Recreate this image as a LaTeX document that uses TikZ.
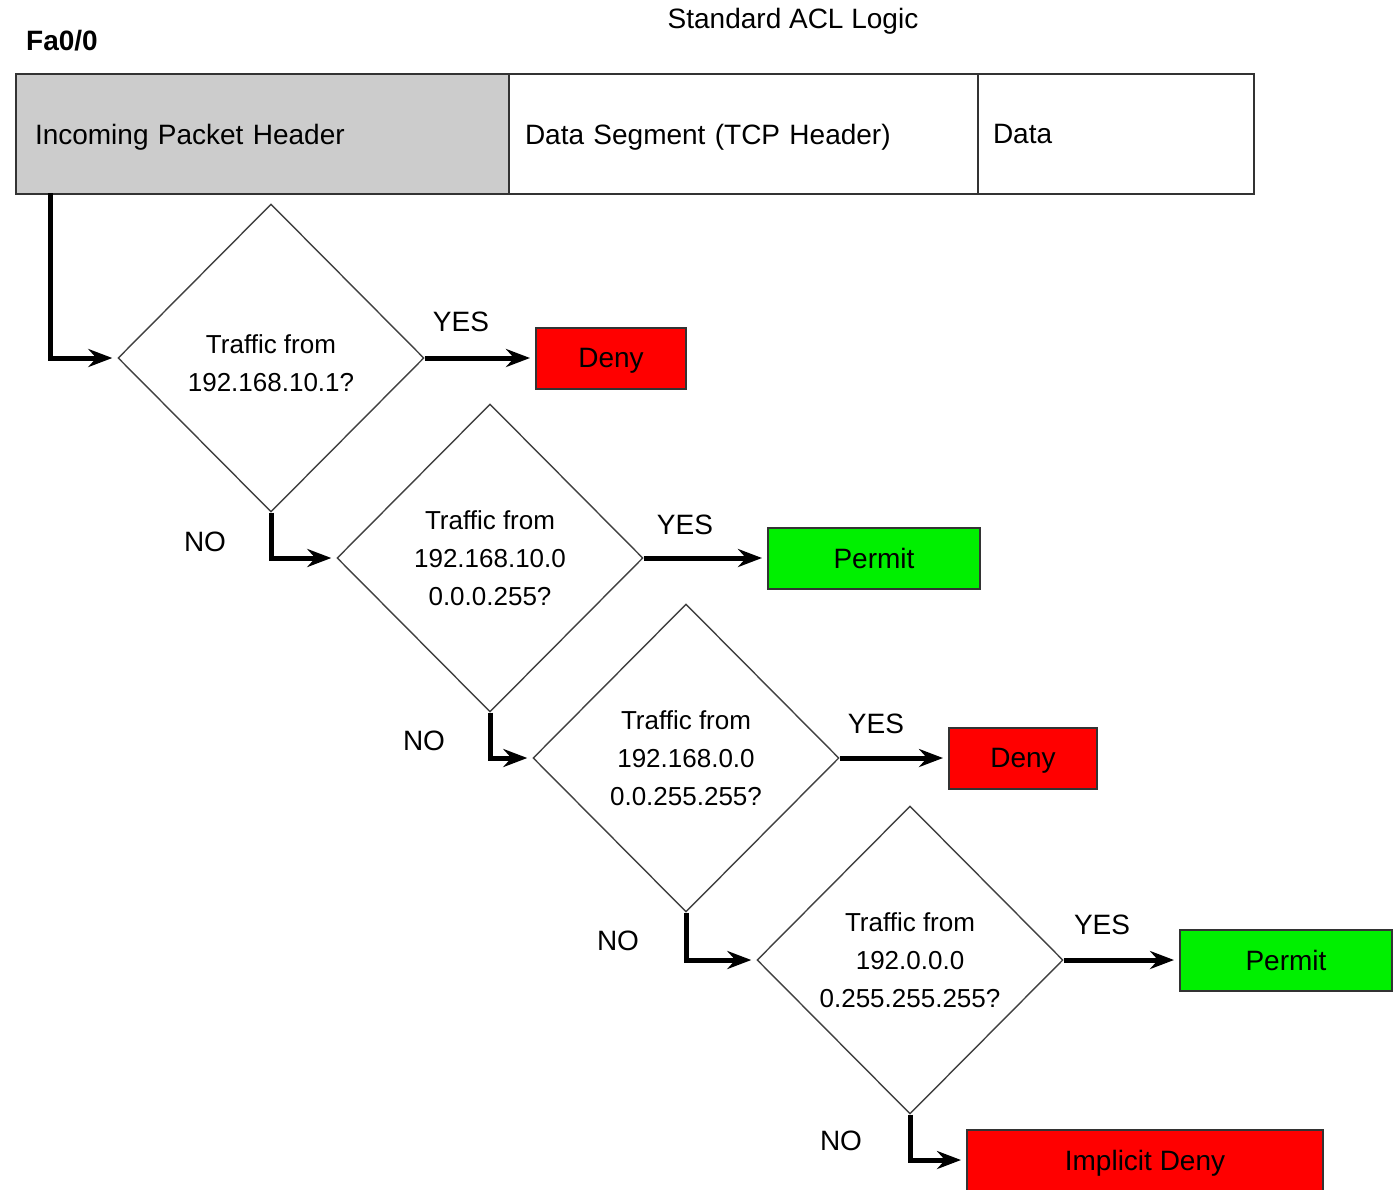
\documentclass[tikz,border=0pt]{standalone}
\usepackage{fontspec}
\setmainfont{Liberation Sans}
\usetikzlibrary{shapes.geometric,arrows.meta}
\definecolor{boxline}{HTML}{333333}
\definecolor{cellgray}{HTML}{CCCCCC}
\definecolor{denyred}{HTML}{FF0000}
\definecolor{permitgreen}{HTML}{00F000}
\tikzset{
  cell/.style={draw=boxline, line width=2pt, minimum height=120pt, inner ysep=0pt,
    text depth=0pt, align=left, anchor=north west, font=\fontsize{28}{34}\selectfont},
  decision/.style={diamond, draw=black!75, line width=1.4pt, inner sep=0pt,
    minimum width=306pt, minimum height=308pt, align=center,
    font=\fontsize{26}{38}\selectfont},
  outcome/.style={draw=boxline, line width=2pt, minimum height=61pt, inner sep=0pt,
    text depth=0pt, font=\fontsize{28}{34}\selectfont},
  flow/.style={line width=5pt, shorten >=5pt,
    -{Stealth[length=24pt,width=18pt,inset=8pt]}},
  lbl/.style={font=\fontsize{28}{34}\selectfont, inner sep=0pt}
}
\begin{document}
\begin{tikzpicture}[x=1pt, y=-1pt]
\path[use as bounding box] (0,0) rectangle (1396,1189);

% titles
\node[lbl] (title) at (793,21) {Standard ACL Logic};
\node[lbl, font=\fontsize{28}{34}\selectfont\bfseries, anchor=west] (iface) at (26,41) {Fa0/0};

% packet layout
\node[cell, fill=cellgray, minimum width=493pt, text width=455pt, inner xsep=19pt] (hdr) at (15,73) {Incoming Packet Header};
\node[cell, minimum width=469pt, text width=437pt, inner xsep=16pt] (seg) at (508,73) {Data Segment (TCP Header)};
\node[cell, minimum width=276pt, text width=246pt, inner xsep=15pt] (data) at (977,73) {Data};

% decisions
\node[decision] (d1) at (271,358) {\rule{0pt}{30pt}Traffic from\\192.168.10.1?};
\node[decision] (d2) at (490,558) {Traffic from\\192.168.10.0\\0.0.0.255?};
\node[decision] (d3) at (686,758) {Traffic from\\192.168.0.0\\0.0.255.255?};
\node[decision] (d4) at (910,960) {Traffic from\\192.0.0.0\\0.255.255.255?};

% outcomes
\node[outcome, fill=denyred, minimum width=150pt] (o1) at (611,358) {Deny};
\node[outcome, fill=permitgreen, minimum width=212pt] (o2) at (874,558) {Permit};
\node[outcome, fill=denyred, minimum width=148pt] (o3) at (1023,758) {Deny};
\node[outcome, fill=permitgreen, minimum width=212pt] (o4) at (1286,960) {Permit};
\node[outcome, fill=denyred, minimum width=356pt] (o5) at (1145,1160) {Implicit Deny};

% connectors
\coordinate (entry) at (50,193);
\draw[flow] (entry) |- (d1.west);
\draw[flow] (d1.east) -- (o1.west);
\draw[flow] (d1.south) |- (d2.west);
\draw[flow] (d2.east) -- (o2.west);
\draw[flow] (d2.south) |- (d3.west);
\draw[flow] (d3.east) -- (o3.west);
\draw[flow] (d3.south) |- (d4.west);
\draw[flow] (d4.east) -- (o4.west);
\draw[flow] (d4.south) |- (o5.west);

% branch labels
\node[lbl] (y1) at (461,322) {YES};
\node[lbl] (y2) at (685,525) {YES};
\node[lbl] (y3) at (876,724) {YES};
\node[lbl] (y4) at (1102,925) {YES};
\node[lbl] (n1) at (205,542) {NO};
\node[lbl] (n2) at (424,741) {NO};
\node[lbl] (n3) at (618,941) {NO};
\node[lbl] (n4) at (841,1141) {NO};
\end{tikzpicture}
\end{document}
